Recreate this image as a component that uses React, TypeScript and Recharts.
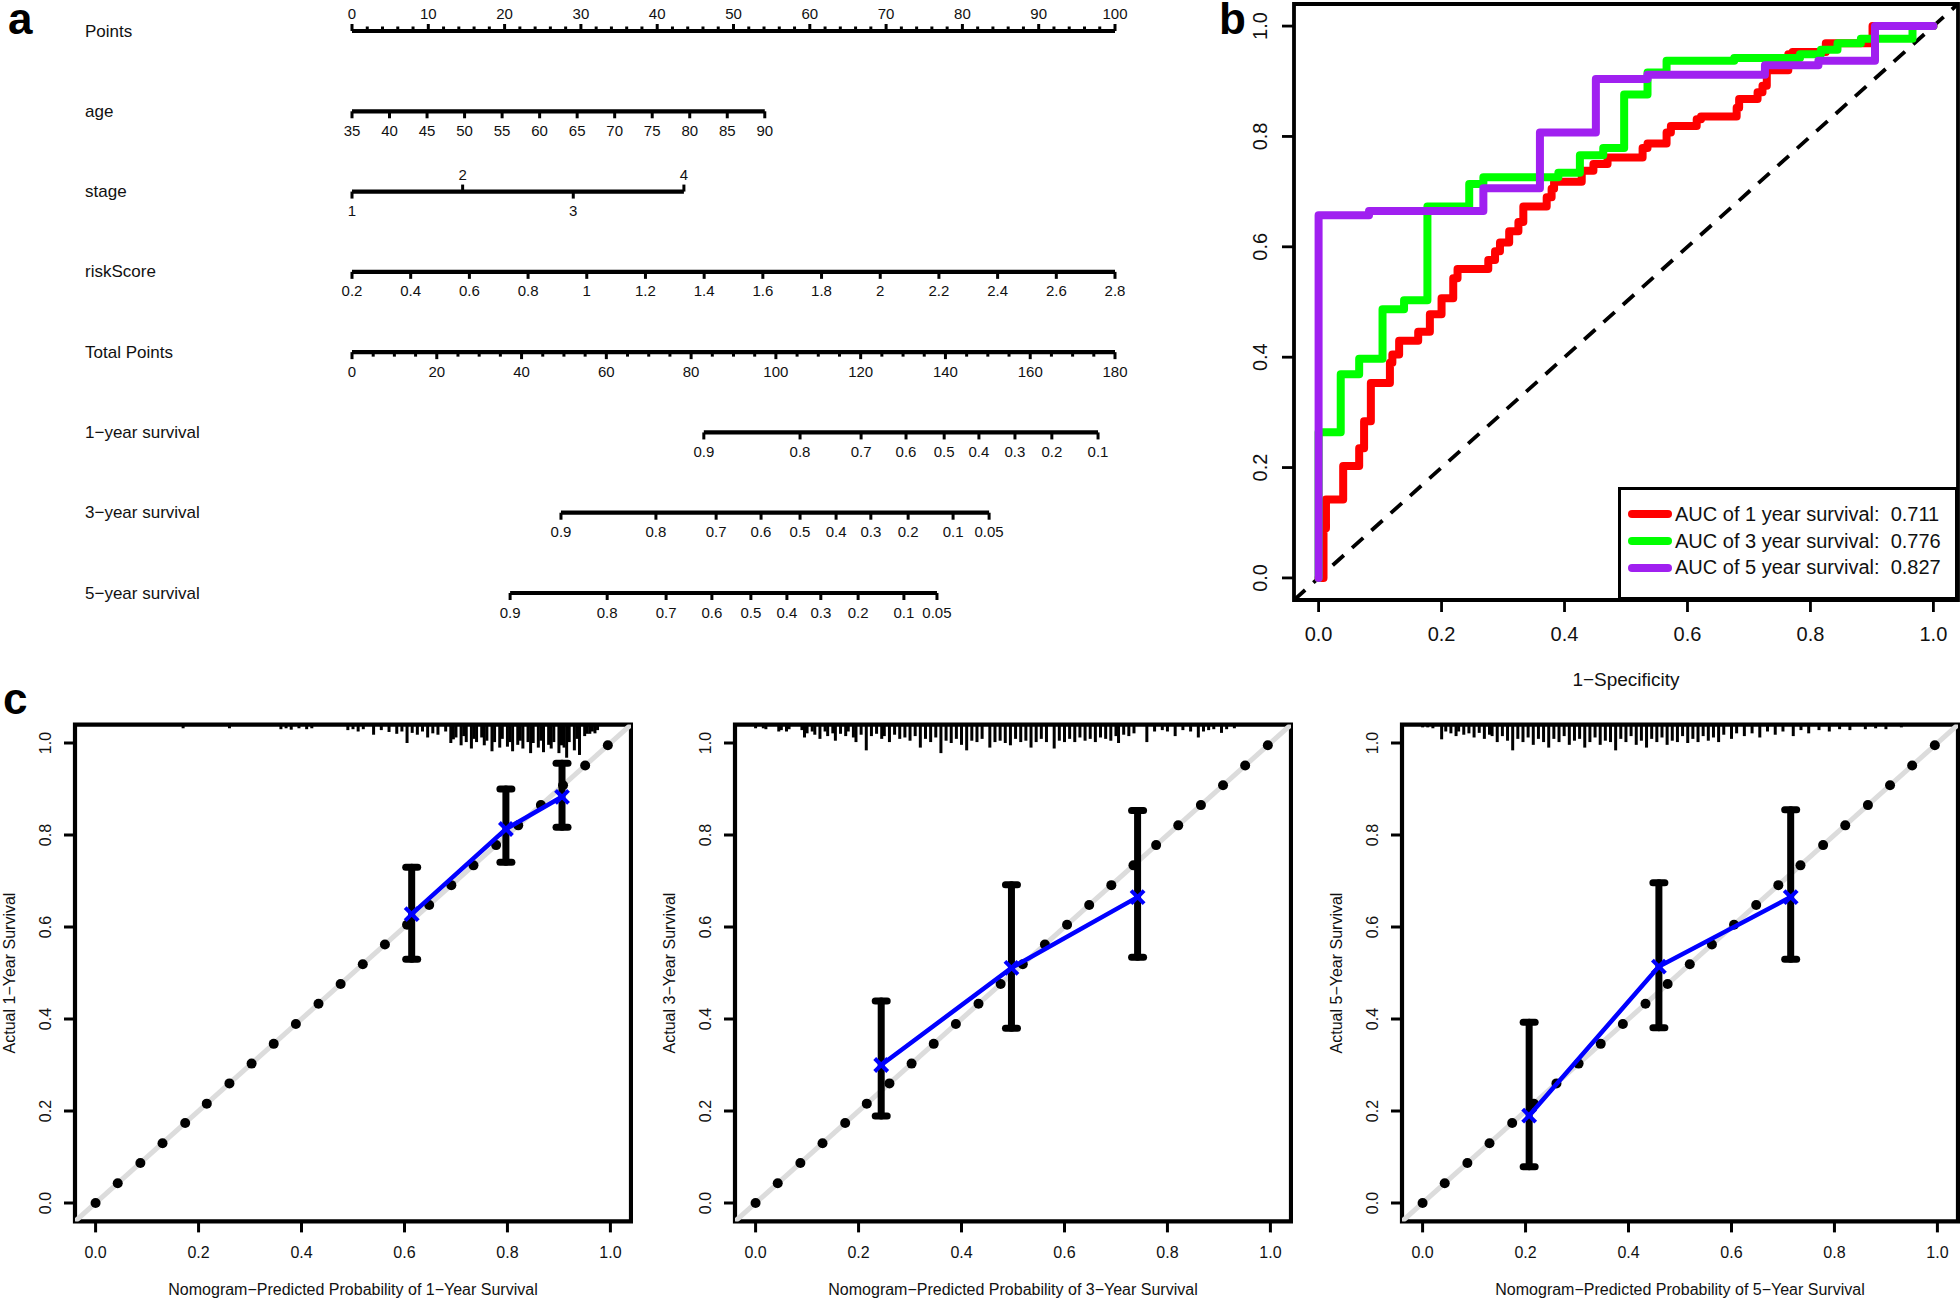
import React from 'react'
import {
  ComposedChart,
  LineChart,
  Line,
  Scatter,
  XAxis,
  YAxis,
  ErrorBar,
  ReferenceArea,
  Legend,
} from 'recharts'

const FONT = "'Liberation Sans', Arial, Helvetica, sans-serif"

// ---------- a: nomogram ----------
const rowLabels = [
  'Points',
  'age',
  'stage',
  'riskScore',
  'Total Points',
  '1−year survival',
  '3−year survival',
  '5−year survival',
]

const pointsMajor = [0, 10, 20, 30, 40, 50, 60, 70, 80, 90, 100]
const pointsMinor = [
  2, 4, 6, 8, 12, 14, 16, 18, 22, 24, 26, 28, 32, 34, 36, 38, 42, 44, 46, 48, 52, 54, 56, 58, 62,
  64, 66, 68, 72, 74, 76, 78, 82, 84, 86, 88, 92, 94, 96, 98,
]
const ageTicks = [35, 40, 45, 50, 55, 60, 65, 70, 75, 80, 85, 90]
const ageMaxPoints = 54.1 // points given to age 90
const stageTicks = [1, 2, 3, 4]
const stagePoints = [0, 14.5, 29, 43.5]
const riskTicks = [0.2, 0.4, 0.6, 0.8, 1, 1.2, 1.4, 1.6, 1.8, 2, 2.2, 2.4, 2.6, 2.8]
const totalMajor = [0, 20, 40, 60, 80, 100, 120, 140, 160, 180]
const totalMinor = [
  5, 10, 15, 25, 30, 35, 45, 50, 55, 65, 70, 75, 85, 90, 95, 105, 110, 115, 125, 130, 135, 145,
  150, 155, 165, 170, 175,
]
const surv1Labels = ['0.9', '0.8', '0.7', '0.6', '0.5', '0.4', '0.3', '0.2', '0.1']
const surv1Total = [83.0, 105.7, 120.1, 130.7, 139.7, 147.9, 156.4, 165.1, 176.0]
const surv3Labels = ['0.9', '0.8', '0.7', '0.6', '0.5', '0.4', '0.3', '0.2', '0.1', '0.05']
const surv3Total = [49.3, 71.7, 85.9, 96.5, 105.7, 114.2, 122.4, 131.2, 141.8, 150.3]
const surv5Labels = ['0.9', '0.8', '0.7', '0.6', '0.5', '0.4', '0.3', '0.2', '0.1', '0.05']
const surv5Total = [37.3, 60.2, 74.1, 84.9, 94.1, 102.6, 110.6, 119.4, 130.2, 138.0]

// ---------- b: ROC ----------
const rocRed: [number, number][] = [
  [0, 0], [0.008, 0.09], [0.012, 0.142], [0.04, 0.203], [0.066, 0.235], [0.074, 0.284],
  [0.085, 0.353], [0.116, 0.39], [0.12, 0.405], [0.131, 0.43], [0.162, 0.446], [0.181, 0.478],
  [0.2, 0.507], [0.219, 0.543], [0.226, 0.56], [0.276, 0.576], [0.287, 0.592], [0.295, 0.608],
  [0.31, 0.628], [0.325, 0.645], [0.333, 0.673], [0.371, 0.69], [0.379, 0.705], [0.383, 0.718],
  [0.428, 0.738], [0.447, 0.75], [0.47, 0.762], [0.527, 0.779], [0.535, 0.787], [0.566, 0.807],
  [0.573, 0.819], [0.615, 0.831], [0.622, 0.836], [0.68, 0.852], [0.684, 0.868], [0.714, 0.88],
  [0.722, 0.892], [0.729, 0.92], [0.764, 0.949], [0.771, 0.953], [0.825, 0.969], [0.901, 1.0],
  [1.0, 1.0],
]
const rocGreen: [number, number][] = [
  [0, 0], [0, 0.264], [0.036, 0.369], [0.066, 0.397], [0.104, 0.487], [0.139, 0.503],
  [0.177, 0.673], [0.245, 0.714], [0.268, 0.726], [0.39, 0.734], [0.425, 0.766], [0.463, 0.779],
  [0.497, 0.876], [0.535, 0.916], [0.566, 0.937], [0.676, 0.942], [0.783, 0.949], [0.817, 0.957],
  [0.844, 0.969], [0.882, 0.977], [0.966, 1.0], [1.0, 1.0],
]
const rocPurple: [number, number][] = [
  [0, 0], [0, 0.657], [0.082, 0.665], [0.268, 0.706], [0.36, 0.807], [0.451, 0.904],
  [0.535, 0.912], [0.726, 0.929], [0.813, 0.937], [0.905, 1.0], [1.0, 1.0],
]
const rocLegend = [
  'AUC of 1 year survival:  0.711',
  'AUC of 3 year survival:  0.776',
  'AUC of 5 year survival:  0.827',
]
const rocColors = ['#ff0000', '#00ff00', '#a020f0']

// ---------- c: calibration ----------
const axisTicks = [0, 0.2, 0.4, 0.6, 0.8, 1]
const calibDots = [
  0, 0.043, 0.087, 0.13, 0.174, 0.216, 0.26, 0.303, 0.346, 0.389, 0.433, 0.476, 0.519, 0.562,
  0.605, 0.648, 0.691, 0.734, 0.778, 0.821, 0.865, 0.908, 0.951, 0.995,
]

const cal1Pred = [0.614, 0.797, 0.906]
const cal1Obs = [0.628, 0.813, 0.883]
const cal1Lo = [0.53, 0.741, 0.817]
const cal1Hi = [0.73, 0.9, 0.956]

const cal3Pred = [0.244, 0.497, 0.742]
const cal3Obs = [0.3, 0.511, 0.665]
const cal3Lo = [0.189, 0.38, 0.534]
const cal3Hi = [0.439, 0.692, 0.853]

const cal5Pred = [0.207, 0.459, 0.715]
const cal5Obs = [0.19, 0.514, 0.665]
const cal5Lo = [0.079, 0.381, 0.53]
const cal5Hi = [0.393, 0.696, 0.855]

// rug of predicted probabilities: [x, spike length]
const rug1: [number, number][] = [
  [0.17, 0.008], [0.26, 0.008], [0.36, 0.01], [0.37, 0.008], [0.38, 0.011], [0.395, 0.008],
  [0.41, 0.01], [0.42, 0.008], [0.49, 0.012], [0.5, 0.01], [0.51, 0.015], [0.52, 0.01],
  [0.54, 0.022], [0.555, 0.012], [0.57, 0.016], [0.585, 0.02], [0.595, 0.015], [0.605, 0.04],
  [0.615, 0.018], [0.625, 0.022], [0.635, 0.015], [0.645, 0.028], [0.655, 0.019], [0.665, 0.022],
  [0.68, 0.015], [0.69, 0.04], [0.695, 0.032], [0.7, 0.028], [0.71, 0.045], [0.715, 0.025],
  [0.72, 0.038], [0.73, 0.052], [0.735, 0.031], [0.74, 0.038], [0.75, 0.028], [0.755, 0.045],
  [0.76, 0.035], [0.77, 0.058], [0.775, 0.038], [0.785, 0.05], [0.79, 0.031], [0.8, 0.048],
  [0.805, 0.038], [0.81, 0.058], [0.82, 0.044], [0.825, 0.035], [0.83, 0.052], [0.84, 0.038],
  [0.845, 0.062], [0.85, 0.04], [0.86, 0.05], [0.865, 0.035], [0.87, 0.06], [0.88, 0.044],
  [0.885, 0.052], [0.89, 0.038], [0.9, 0.062], [0.905, 0.045], [0.91, 0.05], [0.915, 0.072],
  [0.92, 0.038], [0.93, 0.056], [0.935, 0.031], [0.94, 0.066], [0.95, 0.025], [0.955, 0.02],
  [0.96, 0.02], [0.965, 0.015], [0.97, 0.019], [0.975, 0.012],
]
const rug3: [number, number][] = [
  [0.0, 0.008], [0.015, 0.008], [0.02, 0.01], [0.045, 0.015], [0.05, 0.012], [0.06, 0.015],
  [0.065, 0.01], [0.09, 0.012], [0.095, 0.028], [0.1, 0.019], [0.11, 0.015], [0.115, 0.022],
  [0.125, 0.031], [0.135, 0.015], [0.14, 0.025], [0.15, 0.019], [0.155, 0.035], [0.165, 0.02],
  [0.175, 0.025], [0.18, 0.015], [0.19, 0.028], [0.195, 0.038], [0.205, 0.022], [0.215, 0.056],
  [0.225, 0.025], [0.235, 0.02], [0.245, 0.031], [0.25, 0.025], [0.26, 0.038], [0.27, 0.022],
  [0.28, 0.031], [0.29, 0.028], [0.3, 0.035], [0.31, 0.025], [0.32, 0.05], [0.33, 0.031],
  [0.34, 0.038], [0.35, 0.028], [0.36, 0.062], [0.37, 0.035], [0.38, 0.04], [0.39, 0.031],
  [0.4, 0.044], [0.41, 0.056], [0.42, 0.035], [0.43, 0.038], [0.44, 0.031], [0.455, 0.05],
  [0.465, 0.038], [0.475, 0.035], [0.485, 0.04], [0.495, 0.045], [0.505, 0.031], [0.515, 0.038],
  [0.525, 0.035], [0.535, 0.05], [0.545, 0.038], [0.555, 0.031], [0.565, 0.038], [0.58, 0.052],
  [0.59, 0.035], [0.6, 0.038], [0.61, 0.031], [0.62, 0.038], [0.63, 0.028], [0.64, 0.035],
  [0.65, 0.031], [0.66, 0.038], [0.67, 0.028], [0.68, 0.031], [0.69, 0.035], [0.7, 0.025],
  [0.705, 0.04], [0.715, 0.022], [0.725, 0.025], [0.735, 0.019], [0.76, 0.038], [0.775, 0.015],
  [0.79, 0.012], [0.8, 0.015], [0.815, 0.025], [0.83, 0.012], [0.845, 0.015], [0.86, 0.028],
  [0.87, 0.015], [0.88, 0.012], [0.89, 0.01], [0.905, 0.018], [0.915, 0.01], [0.93, 0.008],
]
const rug5: [number, number][] = [
  [0.0, 0.006], [0.01, 0.006], [0.02, 0.008], [0.037, 0.032], [0.045, 0.015], [0.055, 0.019],
  [0.065, 0.025], [0.07, 0.015], [0.08, 0.022], [0.09, 0.019], [0.1, 0.028], [0.11, 0.018],
  [0.12, 0.031], [0.13, 0.022], [0.135, 0.025], [0.145, 0.038], [0.155, 0.025], [0.165, 0.035],
  [0.175, 0.056], [0.185, 0.031], [0.195, 0.038], [0.205, 0.028], [0.215, 0.044], [0.225, 0.031],
  [0.235, 0.038], [0.245, 0.05], [0.255, 0.031], [0.265, 0.038], [0.275, 0.025], [0.285, 0.044],
  [0.295, 0.035], [0.305, 0.031], [0.315, 0.05], [0.325, 0.038], [0.335, 0.028], [0.345, 0.044],
  [0.355, 0.035], [0.365, 0.038], [0.375, 0.056], [0.385, 0.031], [0.395, 0.038], [0.405, 0.025],
  [0.415, 0.044], [0.425, 0.035], [0.435, 0.05], [0.445, 0.031], [0.455, 0.038], [0.465, 0.028],
  [0.475, 0.044], [0.485, 0.035], [0.495, 0.038], [0.505, 0.025], [0.515, 0.04], [0.525, 0.031],
  [0.535, 0.038], [0.545, 0.025], [0.555, 0.035], [0.565, 0.028], [0.575, 0.038], [0.585, 0.022],
  [0.6, 0.031], [0.61, 0.019], [0.625, 0.025], [0.64, 0.019], [0.655, 0.028], [0.67, 0.015],
  [0.685, 0.022], [0.7, 0.015], [0.72, 0.025], [0.735, 0.012], [0.75, 0.019], [0.77, 0.012],
  [0.79, 0.015], [0.81, 0.01], [0.83, 0.012], [0.86, 0.01], [0.88, 0.008], [0.9, 0.01],
  [0.93, 0.006],
]

// ---------- helpers ----------
const agePts = (v: number) => ((v - 35) / (90 - 35)) * ageMaxPoints
const riskPts = (v: number) => ((v - 0.2) / (2.8 - 0.2)) * 100
const totalPts = (v: number) => (v / 180) * 100

type NomoTick = { x: number; y: number; label?: string; up?: boolean }

const blank = () => <g />

function nomoShape(len: number) {
  return (p: any) => {
    const d = p.payload.up ? -1 : 1
    const gap = p.payload.up ? 17.5 : 19
    return (
      <g>
        <line x1={p.cx} x2={p.cx} y1={p.cy} y2={p.cy + d * len} stroke="#000" strokeWidth={3} />
        {p.payload.label != null && (
          <text
            x={p.cx}
            y={p.cy + d * gap}
            textAnchor="middle"
            dominantBaseline="central"
            fontSize={15}
            fontFamily={FONT}
            fill="#111"
          >
            {p.payload.label}
          </text>
        )}
      </g>
    )
  }
}

function Nomogram() {
  const rows: { ticks: NomoTick[]; minor?: NomoTick[] }[] = [
    {
      ticks: pointsMajor.map(v => ({ x: v, y: 0, label: String(v), up: true })),
      minor: pointsMinor.map(v => ({ x: v, y: 0, up: true })),
    },
    { ticks: ageTicks.map(v => ({ x: agePts(v), y: 1, label: String(v) })) },
    {
      ticks: stageTicks.map((v, i) => ({ x: stagePoints[i], y: 2, label: String(v), up: i % 2 === 1 })),
    },
    { ticks: riskTicks.map(v => ({ x: riskPts(v), y: 3, label: String(v) })) },
    {
      ticks: totalMajor.map(v => ({ x: totalPts(v), y: 4, label: String(v) })),
      minor: totalMinor.map(v => ({ x: totalPts(v), y: 4 })),
    },
    { ticks: surv1Total.map((t, i) => ({ x: totalPts(t), y: 5, label: surv1Labels[i] })) },
    { ticks: surv3Total.map((t, i) => ({ x: totalPts(t), y: 6, label: surv3Labels[i] })) },
    { ticks: surv5Total.map((t, i) => ({ x: totalPts(t), y: 7, label: surv5Labels[i] })) },
  ]
  return (
    <ComposedChart width={1200} height={640} margin={{ top: 31, right: 85, bottom: 47, left: 0 }}>
      <XAxis type="number" dataKey="x" domain={[0, 100]} hide />
      <YAxis
        type="number"
        dataKey="y"
        domain={[0, 7]}
        reversed
        ticks={[0, 1, 2, 3, 4, 5, 6, 7]}
        interval={0}
        width={352}
        axisLine={false}
        tickLine={false}
        tick={(p: any) => (
          <text x={85} y={p.y} dominantBaseline="central" fontSize={17} fontFamily={FONT} fill="#111">
            {rowLabels[p.payload.value]}
          </text>
        )}
      />
      {rows.map((r, i) => (
        <Scatter
          key={`row${i}`}
          data={r.ticks}
          shape={nomoShape(7)}
          line={{ stroke: '#000', strokeWidth: 4.2 }}
          isAnimationActive={false}
        />
      ))}
      {rows.map((r, i) =>
        r.minor ? (
          <Scatter key={`minor${i}`} data={r.minor} shape={nomoShape(4.5)} isAnimationActive={false} />
        ) : null,
      )}
    </ComposedChart>
  )
}

function rotatedTick(shift: number, size: number) {
  return (p: any) => {
    const cx = p.x - shift
    return (
      <text
        x={cx}
        y={p.y}
        transform={`rotate(-90 ${cx} ${p.y})`}
        textAnchor="middle"
        dominantBaseline="central"
        fontSize={size}
        fontFamily={FONT}
        fill="#111"
      >
        {Number(p.payload.value).toFixed(1)}
      </text>
    )
  }
}

function bottomTick(dy: number, size: number) {
  return (p: any) => (
    <text
      x={p.x}
      y={p.y + dy}
      textAnchor="middle"
      dominantBaseline="central"
      fontSize={size}
      fontFamily={FONT}
      fill="#111"
    >
      {Number(p.payload.value).toFixed(1)}
    </text>
  )
}

const frameDomain: [number, number] = [-0.04, 1.04]
const diagonal = [
  { x: -0.04, y: -0.04 },
  { x: 1.04, y: 1.04 },
]

function RocLegend() {
  return (
    <div
      style={{
        boxSizing: 'border-box',
        width: 340,
        height: 113,
        border: '3px solid #000',
        background: '#fff',
        paddingTop: 11,
        fontFamily: FONT,
      }}
    >
      {rocLegend.map((t, i) => (
        <div key={t} style={{ display: 'flex', alignItems: 'center', height: 26.7 }}>
          <span
            style={{
              display: 'inline-block',
              marginLeft: 7,
              width: 44,
              height: 8,
              borderRadius: 4,
              background: rocColors[i],
            }}
          />
          <span style={{ fontSize: 20, marginLeft: 3, whiteSpace: 'pre', color: '#111' }}>{t}</span>
        </div>
      ))}
    </div>
  )
}

function Roc() {
  const series = [rocRed, rocGreen, rocPurple]
  return (
    <LineChart width={760} height={700} margin={{ top: 4, right: 2, bottom: 0, left: 0 }}>
      <XAxis
        type="number"
        dataKey="x"
        domain={frameDomain}
        allowDataOverflow
        ticks={axisTicks}
        interval={0}
        tickSize={12}
        tickMargin={0}
        axisLine={false}
        tickLine={{ stroke: '#000', strokeWidth: 2.8 }}
        height={100}
        tick={bottomTick(22, 20)}
        label={{
          content: (lp: any) => (
            <text
              x={lp.viewBox.x + lp.viewBox.width / 2}
              y={lp.viewBox.y + 79}
              textAnchor="middle"
              dominantBaseline="central"
              fontSize={19}
              fontFamily={FONT}
              fill="#111"
            >
              1−Specificity
            </text>
          ),
        }}
      />
      <YAxis
        type="number"
        dataKey="y"
        domain={frameDomain}
        allowDataOverflow
        ticks={axisTicks}
        interval={0}
        tickSize={12}
        tickMargin={0}
        axisLine={false}
        tickLine={{ stroke: '#000', strokeWidth: 2.8 }}
        width={94}
        tick={rotatedTick(22, 20)}
      />
      <ReferenceArea
        x1={-0.04}
        x2={1.04}
        y1={-0.04}
        y2={1.04}
        fill="none"
        stroke="#000"
        strokeWidth={3.8}
        ifOverflow="visible"
      />
      <Line
        data={diagonal}
        dataKey="y"
        stroke="#000"
        strokeWidth={3.8}
        strokeDasharray="15 11"
        dot={false}
        isAnimationActive={false}
      />
      {series.map((s, i) => (
        <Line
          key={rocLegend[i]}
          data={s.map(([x, y]) => ({ x, y }))}
          dataKey="y"
          type="stepAfter"
          stroke={rocColors[i]}
          strokeWidth={8}
          strokeLinecap="round"
          strokeLinejoin="round"
          dot={false}
          isAnimationActive={false}
        />
      ))}
      <Legend
        layout="vertical"
        align="center"
        verticalAlign="middle"
        content={() => <RocLegend />}
        wrapperStyle={{ left: 418, top: 487, width: 340, height: 113 }}
      />
    </LineChart>
  )
}

type CalProps = {
  left: number
  year: number
  pred: number[]
  obs: number[]
  lo: number[]
  hi: number[]
  rug: [number, number][]
}

const dotShape = (p: any) => <circle cx={p.cx} cy={p.cy} r={5} fill="#000" />
const crossShape = (p: any) => (
  <g stroke="#0000ff" strokeWidth={4}>
    <line x1={p.cx - 6.5} y1={p.cy - 6.5} x2={p.cx + 6.5} y2={p.cy + 6.5} />
    <line x1={p.cx - 6.5} y1={p.cy + 6.5} x2={p.cx + 6.5} y2={p.cy - 6.5} />
  </g>
)

function Calibration({ left, year, pred, obs, lo, hi, rug }: CalProps) {
  const dots = calibDots.map(v => ({ x: v, y: v }))
  const ci = pred.map((x, i) => ({ x, y: obs[i], e: [obs[i] - lo[i], hi[i] - obs[i]] }))
  const est = pred.map((x, i) => ({ x, y: obs[i] }))
  const spikes = rug.map(([x, len]) => ({ x, y: 1.04, e: [len, 0] }))
  return (
    <div style={{ position: 'absolute', left, top: 700 }}>
      <ComposedChart width={633} height={600} margin={{ top: 24.6, right: 2, bottom: 0, left: 0 }}>
        <XAxis
          type="number"
          dataKey="x"
          domain={frameDomain}
          allowDataOverflow
          ticks={axisTicks}
          interval={0}
          tickSize={11}
          tickMargin={0}
          axisLine={false}
          tickLine={{ stroke: '#000', strokeWidth: 3 }}
          height={78.6}
          tick={bottomTick(19.6, 16)}
          label={{
            content: (lp: any) => (
              <text
                x={lp.viewBox.x + lp.viewBox.width / 2}
                y={lp.viewBox.y + 67.6}
                textAnchor="middle"
                dominantBaseline="central"
                fontSize={16}
                fontFamily={FONT}
                fill="#111"
              >
                {`Nomogram−Predicted Probability of ${year}−Year Survival`}
              </text>
            ),
          }}
        />
        <YAxis
          type="number"
          dataKey="y"
          domain={frameDomain}
          allowDataOverflow
          ticks={axisTicks}
          interval={0}
          tickSize={11}
          tickMargin={0}
          axisLine={false}
          tickLine={{ stroke: '#000', strokeWidth: 3 }}
          width={75}
          tick={rotatedTick(19, 16)}
          label={{
            content: (lp: any) => {
              const cx = lp.viewBox.x + 9
              const cy = lp.viewBox.y + lp.viewBox.height / 2
              return (
                <text
                  x={cx}
                  y={cy}
                  transform={`rotate(-90 ${cx} ${cy})`}
                  textAnchor="middle"
                  dominantBaseline="central"
                  fontSize={16}
                  fontFamily={FONT}
                  fill="#111"
                >
                  {`Actual ${year}−Year Survival`}
                </text>
              )
            },
          }}
        />
        <ReferenceArea
          x1={-0.04}
          x2={1.04}
          y1={-0.04}
          y2={1.04}
          fill="none"
          stroke="#000"
          strokeWidth={4.2}
          ifOverflow="visible"
        />
        <Line
          data={diagonal}
          dataKey="y"
          stroke="#dcdcdc"
          strokeWidth={5}
          dot={false}
          isAnimationActive={false}
        />
        <Scatter data={spikes} shape={blank} isAnimationActive={false}>
          <ErrorBar dataKey="e" direction="y" width={0} stroke="#000" strokeWidth={3} />
        </Scatter>
        <Scatter data={dots} shape={dotShape} isAnimationActive={false} />
        <Scatter data={ci} shape={blank} isAnimationActive={false}>
          <ErrorBar
            dataKey="e"
            direction="y"
            width={6}
            stroke="#000"
            strokeWidth={7}
            strokeLinecap="round"
          />
        </Scatter>
        <Scatter
          data={est}
          shape={crossShape}
          line={{ stroke: '#0000ff', strokeWidth: 4.5 }}
          isAnimationActive={false}
        />
      </ComposedChart>
    </div>
  )
}

export default function App() {
  return (
    <div
      style={{
        position: 'absolute',
        left: 0,
        top: 0,
        width: 1960,
        height: 1300,
        background: '#fff',
        overflow: 'hidden',
        fontFamily: FONT,
      }}
    >
      <div style={{ position: 'absolute', left: 0, top: 0 }}>
        <Nomogram />
      </div>
      <div style={{ position: 'absolute', left: 1200, top: 0 }}>
        <Roc />
      </div>
      <Calibration left={0} year={1} pred={cal1Pred} obs={cal1Obs} lo={cal1Lo} hi={cal1Hi} rug={rug1} />
      <Calibration left={660} year={3} pred={cal3Pred} obs={cal3Obs} lo={cal3Lo} hi={cal3Hi} rug={rug3} />
      <Calibration left={1327} year={5} pred={cal5Pred} obs={cal5Obs} lo={cal5Lo} hi={cal5Hi} rug={rug5} />
      <svg
        width={1960}
        height={1300}
        style={{ position: 'absolute', left: 0, top: 0, pointerEvents: 'none' }}
      >
        <text x={8} y={34} fontSize={44} fontWeight="bold" fontFamily={FONT}>
          a
        </text>
        <text x={1219} y={34} fontSize={44} fontWeight="bold" fontFamily={FONT}>
          b
        </text>
        <text x={3} y={714} fontSize={44} fontWeight="bold" fontFamily={FONT}>
          c
        </text>
      </svg>
    </div>
  )
}
